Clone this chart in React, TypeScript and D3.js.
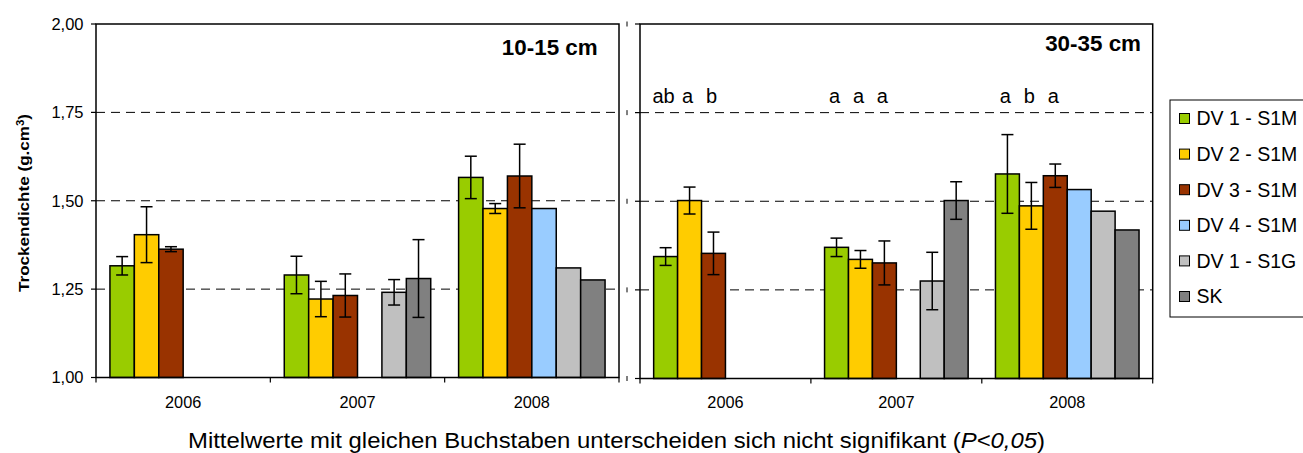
import React from "react";
import * as d3 from "d3";

const categories = ["2006", "2007", "2008"];
const seriesNames = ["DV 1 - S1M", "DV 2 - S1M", "DV 3 - S1M", "DV 4 - S1M", "DV 1 - S1G", "SK"];
const seriesColors = ["#99CC00", "#FFCC00", "#993300", "#99CCFF", "#C0C0C0", "#808080"];
const yTicks = [1.0, 1.25, 1.5, 1.75, 2.0];

// 10-15 cm
const meanShallow: (number | null)[][] = [
  [1.316, 1.29, 1.566],
  [1.404, 1.222, 1.478],
  [1.363, 1.232, 1.57],
  [null, null, 1.478],
  [null, 1.241, 1.31],
  [null, 1.28, 1.276],
];
const errShallow: (number | null)[][] = [
  [0.026, 0.053, 0.06],
  [0.079, 0.05, 0.014],
  [0.007, 0.061, 0.09],
  [null, null, null],
  [null, 0.036, null],
  [null, 0.11, null],
];

// 30-35 cm
const meanDeep: (number | null)[][] = [
  [1.344, 1.37, 1.577],
  [1.502, 1.336, 1.487],
  [1.353, 1.326, 1.572],
  [null, null, 1.533],
  [null, 1.275, 1.472],
  [null, 1.502, 1.419],
];
const errDeep: (number | null)[][] = [
  [0.025, 0.026, 0.111],
  [0.038, 0.025, 0.066],
  [0.06, 0.062, 0.033],
  [null, null, null],
  [null, 0.081, null],
  [null, 0.053, null],
];
// significance letters for first three series per year (30-35 cm)
const lettersDeep = [
  ["ab", "a", "b"],
  ["a", "a", "a"],
  ["a", "b", "a"],
];

const FONT = "'Liberation Sans', Arial, sans-serif";

type PanelProps = {
  x0: number;
  x1: number;
  top: number;
  bottom: number;
  title: string;
  titleX: number;
  titleY: number;
  means: (number | null)[][];
  errs: (number | null)[][];
  letters?: string[][];
  showLabels: boolean;
};

function Panel(p: PanelProps) {
  const x = d3.scaleBand<string>().domain(categories).range([p.x0, p.x1]).paddingInner(0).paddingOuter(0);
  const xs = d3
    .scaleBand<string>()
    .domain(seriesNames)
    .range([0, x.bandwidth()])
    .paddingInner(0)
    .paddingOuter(0.571);
  const y = d3.scaleLinear().domain([1, 2]).range([p.bottom, p.top]);
  const bw = xs.bandwidth();
  const boundaries = [...categories.map((c) => x(c)!), p.x1];

  return (
    <g>
      {/* gridlines */}
      {yTicks
        .filter((t) => t > 1 && t < 2)
        .map((t) => (
          <line
            key={"g" + t}
            x1={p.x0}
            x2={p.x1}
            y1={y(t)}
            y2={y(t)}
            stroke="#000"
            strokeWidth={1}
            strokeDasharray="9,6"
          />
        ))}
      {/* bars */}
      {seriesNames.map((s, si) =>
        categories.map((c, ci) => {
          const v = p.means[si][ci];
          if (v == null) return null;
          const bx = x(c)! + xs(s)!;
          return (
            <rect
              key={s + c}
              x={bx}
              y={y(v)}
              width={bw}
              height={y(1) - y(v)}
              fill={seriesColors[si]}
              stroke="#000"
              strokeWidth={1.5}
            />
          );
        })
      )}
      {/* error bars */}
      {seriesNames.map((s, si) =>
        categories.map((c, ci) => {
          const v = p.means[si][ci];
          const e = p.errs[si][ci];
          if (v == null || e == null) return null;
          const cx = x(c)! + xs(s)! + bw / 2;
          return (
            <g key={"e" + s + c} stroke="#000" strokeWidth={1.5}>
              <line x1={cx} x2={cx} y1={y(v + e)} y2={y(v - e)} />
              <line x1={cx - 6} x2={cx + 6} y1={y(v + e)} y2={y(v + e)} />
              <line x1={cx - 6} x2={cx + 6} y1={y(v - e)} y2={y(v - e)} />
            </g>
          );
        })
      )}
      {/* letters */}
      {p.letters &&
        categories.map((c, ci) =>
          p.letters![ci].map((l, si) => (
            <text
              key={"l" + c + si}
              x={x(c)! + xs(seriesNames[si])! + bw / 2 - 2}
              y={103}
              textAnchor="middle"
              fontSize={20}
              fontFamily={FONT}
              fill="#000"
            >
              {l}
            </text>
          ))
        )}
      {/* frame */}
      <rect x={p.x0} y={p.top} width={p.x1 - p.x0} height={p.bottom - p.top} fill="none" stroke="#000" strokeWidth={1.5} />
      {/* y ticks */}
      {yTicks.map((t) => (
        <g key={"t" + t}>
          <line x1={p.x0 - 5} x2={p.x0} y1={y(t)} y2={y(t)} stroke="#000" strokeWidth={1.2} />
          {p.showLabels ? (
            <text
              x={p.x0 - 12.5}
              y={y(t)}
              dy="0.35em"
              textAnchor="end"
              fontSize={16.5}
              fontFamily={FONT}
              fill="#000"
            >
              {d3.format(".2f")(t).replace(".", ",")}
            </text>
          ) : (
            <line x1={p.x0 - 13} x2={p.x0 - 13} y1={y(t) - 2.5} y2={y(t) + 2.5} stroke="#000" strokeWidth={1} />
          )}
        </g>
      ))}
      {/* x ticks */}
      {boundaries.map((b, i) => (
        <line key={"xb" + i} x1={b} x2={b} y1={p.bottom} y2={p.bottom + 5} stroke="#000" strokeWidth={1.2} />
      ))}
      {categories.map((c) => (
        <text
          key={"xl" + c}
          x={x(c)! + x.bandwidth() / 2}
          y={407.5}
          textAnchor="middle"
          fontSize={16.3}
          fontFamily={FONT}
          fill="#000"
        >
          {c}
        </text>
      ))}
      {/* panel title */}
      <text x={p.titleX} y={p.titleY} textAnchor="end" fontSize={22.4} fontWeight="bold" fontFamily={FONT} fill="#000">
        {p.title}
      </text>
    </g>
  );
}

export default function App() {
  const legendY0 = 118.5;
  const legendStep = 35.6;
  return (
    <svg
      width={1303}
      height={453}
      style={{ position: "absolute", left: 0, top: 0, background: "#fff" }}
      xmlns="http://www.w3.org/2000/svg"
    >
      <rect x={0} y={0} width={1303} height={453} fill="#fff" />
      <Panel
        x0={96}
        x1={619}
        top={24}
        bottom={377.5}
        title="10-15 cm"
        titleX={597.7}
        titleY={55}
        means={meanShallow}
        errs={errShallow}
        showLabels={true}
      />
      <Panel
        x0={640}
        x1={1152.7}
        top={24}
        bottom={378.5}
        title="30-35 cm"
        titleX={1141}
        titleY={51}
        means={meanDeep}
        errs={errDeep}
        letters={lettersDeep}
        showLabels={false}
      />
      {/* y axis title */}
      <text
        transform="translate(24,203) rotate(-90)"
        textAnchor="middle"
        dy="0.35em"
        fontSize={15}
        fontWeight="bold"
        fontFamily={FONT}
        fill="#000"
        textLength={178}
        lengthAdjust="spacingAndGlyphs"
      >
        Trockendichte (g.cm<tspan dy="-5" fontSize={10}>3</tspan><tspan dy="5">)</tspan>
      </text>
      {/* legend */}
      <rect x={1170} y={100} width={150} height={217} fill="#fff" stroke="#000" strokeWidth={1} />
      {seriesNames.map((s, i) => (
        <g key={"lg" + s}>
          <rect
            x={1179.5}
            y={legendY0 + i * legendStep - 5}
            width={10}
            height={10}
            fill={seriesColors[i]}
            stroke="#000"
            strokeWidth={1}
          />
          <text
            x={1196.5}
            y={legendY0 + i * legendStep}
            dy="0.35em"
            fontSize={19.5}
            fontFamily={FONT}
            fill="#000"
          >
            {s}
          </text>
        </g>
      ))}
      {/* caption */}
      <text x={188} y={448} fontSize={22} fontFamily={FONT} fill="#000" textLength={857} lengthAdjust="spacingAndGlyphs">
        Mittelwerte mit gleichen Buchstaben unterscheiden sich nicht signifikant (<tspan fontStyle="italic">P&lt;0,05</tspan>)
      </text>
    </svg>
  );
}
